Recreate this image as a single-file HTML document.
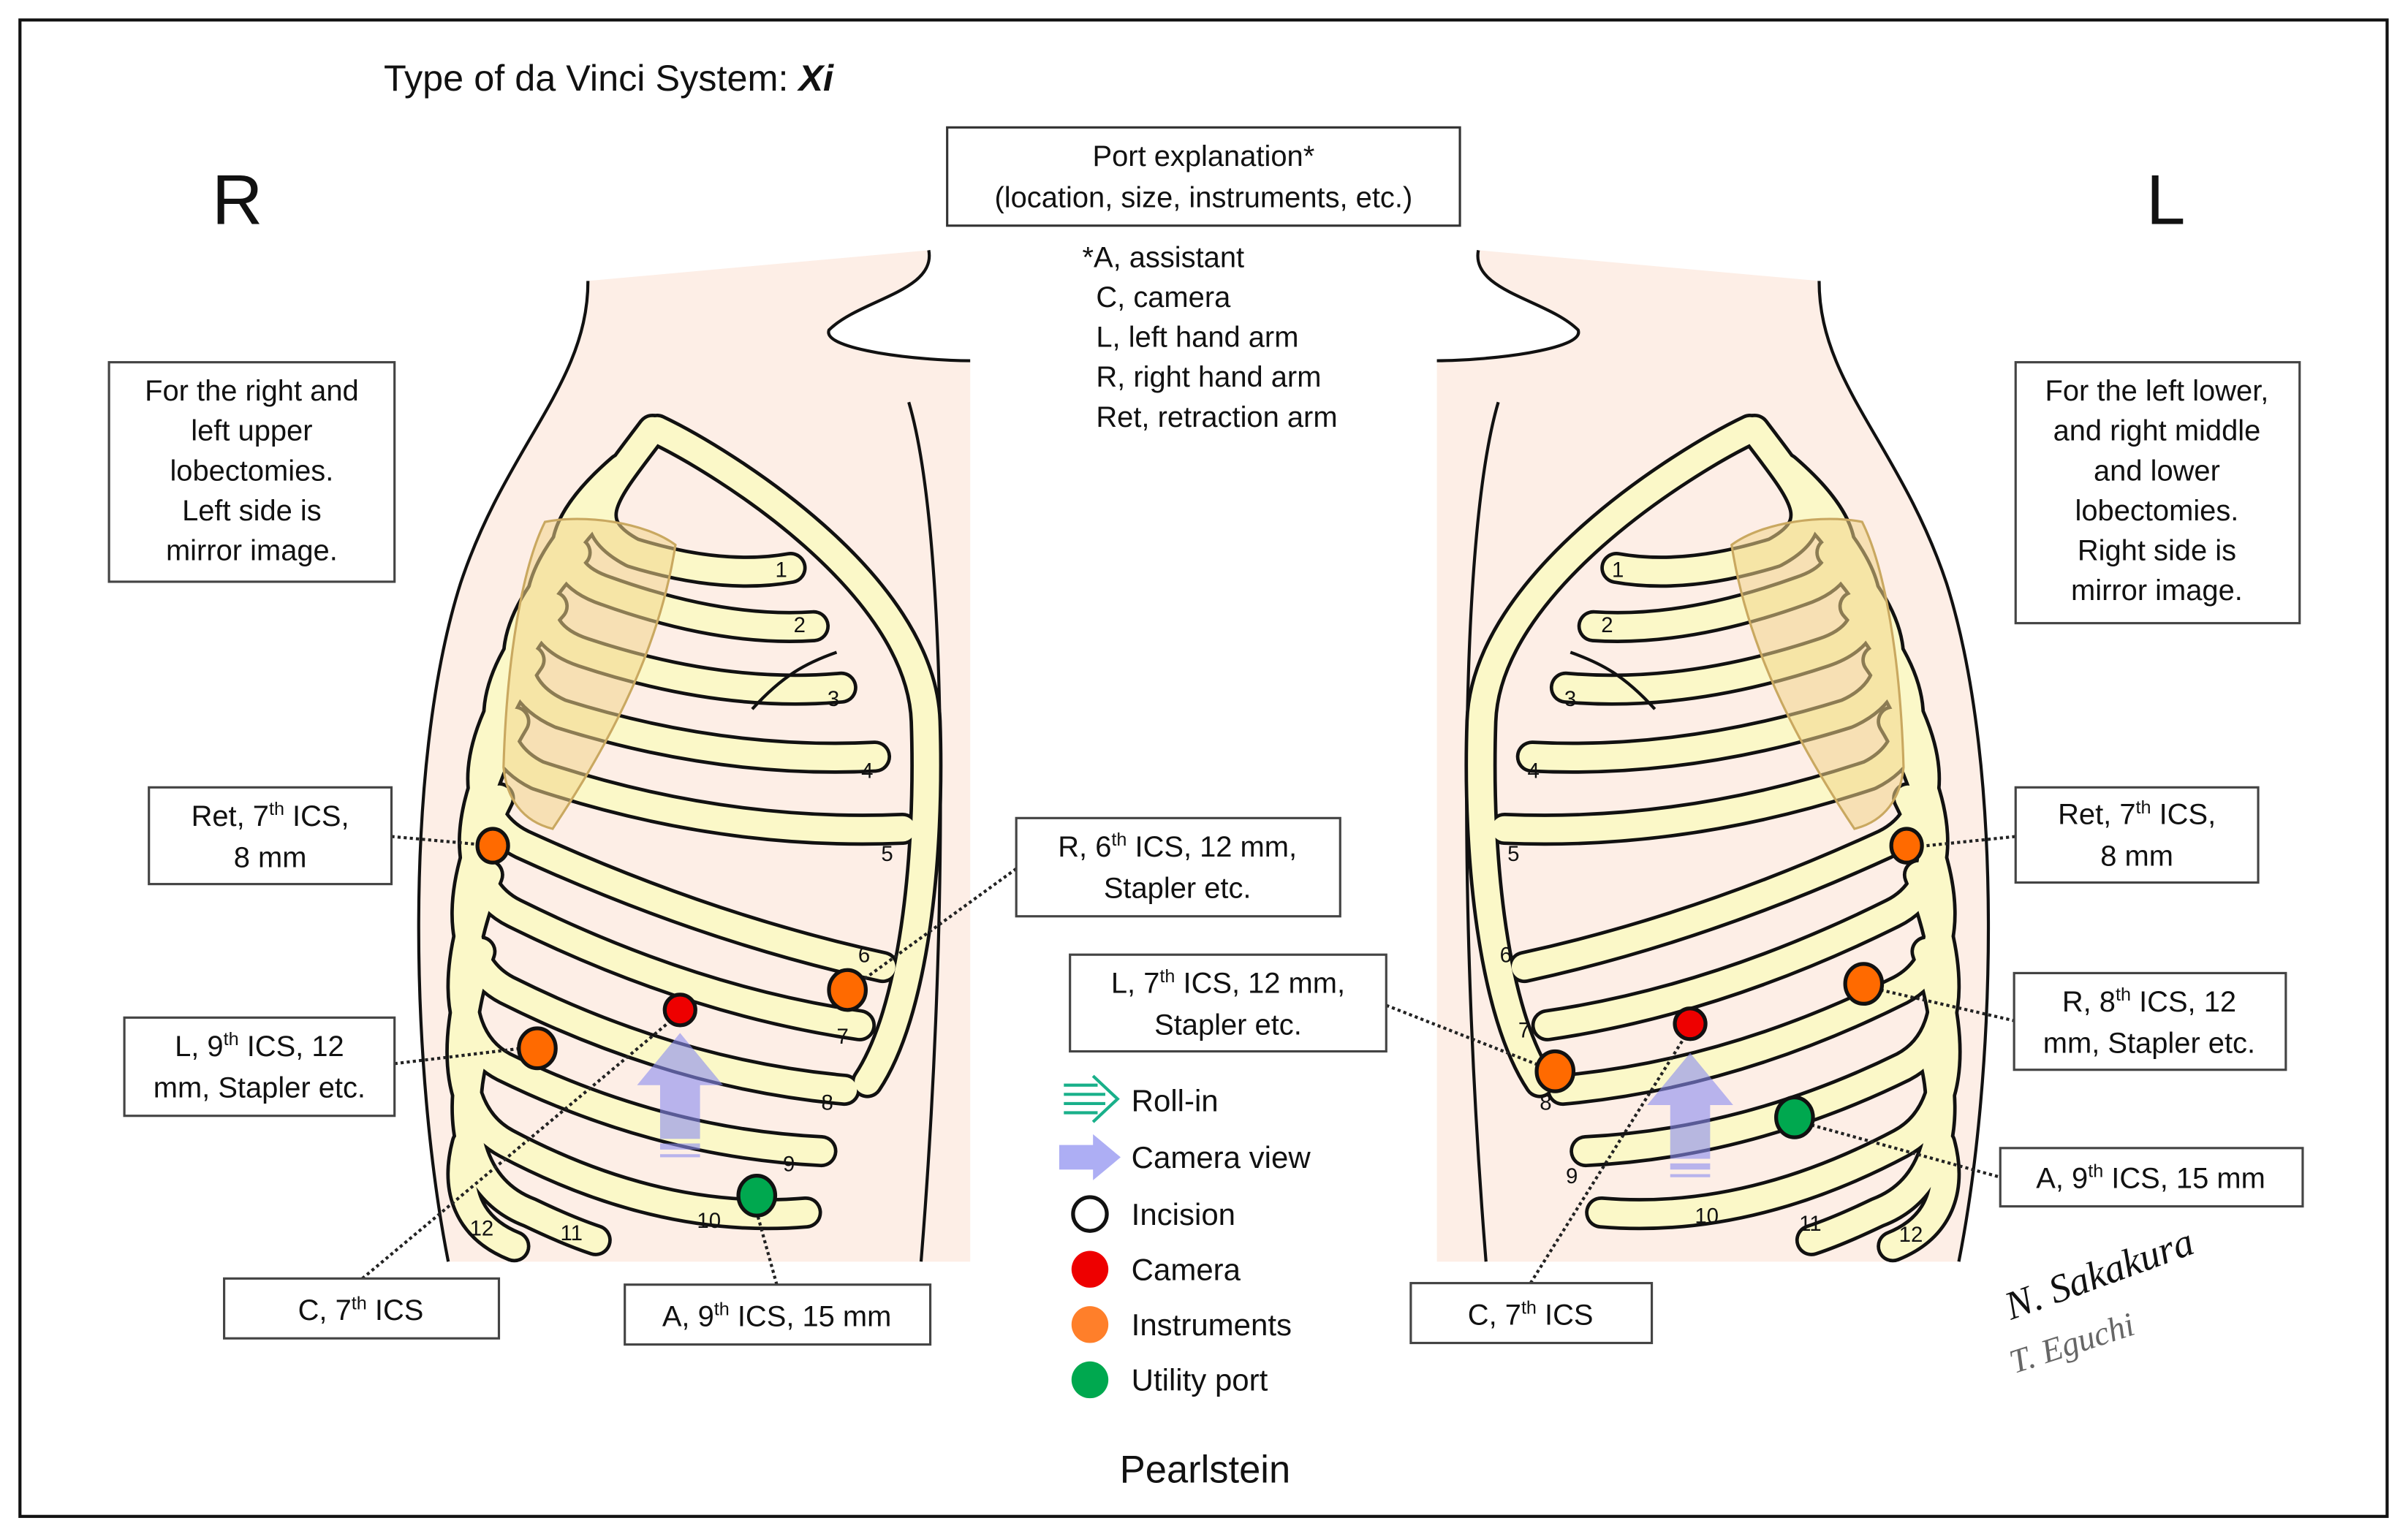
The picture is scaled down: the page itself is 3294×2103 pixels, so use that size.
<!DOCTYPE html>
<html><head><meta charset="utf-8"><style>
html,body{margin:0;padding:0;background:#fff;}
svg{display:block;}
text{font-family:"Liberation Sans",Arial,sans-serif;fill:#111;}
</style></head><body>
<svg width="3294" height="2103" viewBox="0 0 1568.6 1001.4" xmlns="http://www.w3.org/2000/svg">
<defs>
<g id="ribs">
  <path d="M425,280 C395,320 375,340 412,360 Q470,378 515,370"/>
  <path d="M405,305 C370,335 350,370 395,385 Q470,412 530,408"/>
  <path d="M390,330 C350,370 335,410 380,425 Q470,455 548,448"/>
  <path d="M375,360 C335,400 320,445 365,465 Q470,498 570,493"/>
  <path d="M360,395 C320,440 310,485 350,505 Q470,545 588,540"/>
  <path d="M345,430 C310,480 300,530 340,550 Q460,605 575,630"/>
  <path d="M335,470 C305,520 295,575 335,595 Q450,652 560,668"/>
  <path d="M325,520 C300,570 292,625 330,645 Q440,700 550,710"/>
  <path d="M318,570 C298,620 290,675 328,695 Q430,745 535,750"/>
  <path d="M313,620 C296,670 292,725 330,745 Q430,798 525,790"/>
  <path d="M308,690 C298,730 305,775 345,790 Q370,802 388,808"/>
  <path d="M304,745 C296,775 305,800 335,812"/>
  <path d="M428,280 C470,300 600,380 603,470 C606,560 595,660 565,705"/>
</g>
<g id="fig">
  <path d="M383,183 L605,163 C610,190 560,195 540,215 C535,228 600,235 632,235 L632,822 L292,822 C268,700 262,500 300,380 C330,290 383,250 383,183 Z" fill="#fdeee6"/>
  <path d="M383,183 C383,250 330,290 300,380 C262,500 268,700 292,822" fill="none" stroke="#111" stroke-width="2"/>
  <path d="M605,163 C610,190 560,195 540,215 C535,228 600,235 632,235" fill="none" stroke="#111" stroke-width="2"/>
  <path d="M592,262 C618,350 618,600 600,822" fill="none" stroke="#111" stroke-width="2"/>
  <g fill="none" stroke-linecap="round" stroke-linejoin="round">
    <use href="#ribs" stroke="#111" stroke-width="21"/>
    <use href="#ribs" stroke="#fbf8c8" stroke-width="16.5"/>
  </g>
  <path d="M490,462 C510,440 525,432 545,425" fill="none" stroke="#111" stroke-width="2"/>
  <path d="M355,340 C380,335 420,340 440,355 C430,420 400,480 360,540 C340,535 330,520 328,500 C330,430 340,370 355,340 Z" fill="#f2d58a" fill-opacity="0.55" stroke="#c9a860" stroke-width="1.5"/>
</g>
</defs>

<rect x="13" y="13" width="1542" height="975" fill="#fff" stroke="#111" stroke-width="2"/>

<use href="#fig"/>
<use href="#fig" transform="translate(1568,0) scale(-1,1)"/>

<text x="250" y="59" font-size="24">Type of da Vinci System: <tspan font-weight="bold" font-style="italic">Xi</tspan></text>
<text x="138" y="146" font-size="46">R</text>
<text x="1398" y="146" font-size="46">L</text>

<rect x="617" y="83" width="334" height="64" fill="#fff" stroke="#333" stroke-width="1.5"/>
<text x="784" y="108" font-size="19" text-anchor="middle">Port explanation*</text>
<text x="784" y="135" font-size="19" text-anchor="middle">(location, size, instruments, etc.)</text>
<g font-size="19">
<text x="705" y="174">*A, assistant</text>
<text x="714" y="200">C, camera</text>
<text x="714" y="226">L, left hand arm</text>
<text x="714" y="252">R, right hand arm</text>
<text x="714" y="278">Ret, retraction arm</text>
</g>

<g font-size="14">
<text x="505" y="376">1</text><text x="517" y="412">2</text><text x="539" y="460">3</text><text x="561" y="507">4</text><text x="574" y="561">5</text><text x="559" y="627">6</text><text x="545" y="680">7</text><text x="535" y="723">8</text><text x="510" y="763">9</text><text x="454" y="800">10</text><text x="365" y="808">11</text><text x="306" y="805">12</text>
<text x="1050" y="376">1</text><text x="1043" y="412">2</text><text x="1019" y="460">3</text><text x="995" y="507">4</text><text x="982" y="561">5</text><text x="977" y="627">6</text><text x="989" y="676">7</text><text x="1003" y="723">8</text><text x="1020" y="771">9</text><text x="1104" y="797">10</text><text x="1172" y="802">11</text><text x="1237" y="809">12</text>
</g>

<g fill="#8a8cf0" fill-opacity="0.6">
<path d="M415,707 L443,673 L471,707 L456,707 L456,742 L430,742 L430,707 Z"/>
<rect x="430" y="745" width="26" height="4"/><rect x="430" y="752" width="26" height="2"/>
<path d="M1073,720 L1101,686 L1129,720 L1114,720 L1114,755 L1088,755 L1088,720 Z"/>
<rect x="1088" y="758" width="26" height="4"/><rect x="1088" y="765" width="26" height="2"/>
</g>

<g stroke="#222" stroke-width="2" stroke-dasharray="2,2" fill="none">
<line x1="255" y1="545" x2="321" y2="551"/>
<line x1="257" y1="693" x2="340" y2="683"/>
<line x1="236" y1="833" x2="443" y2="660"/>
<line x1="506" y1="837" x2="493" y2="790"/>
<line x1="662" y1="566" x2="560" y2="640"/>
<line x1="903" y1="655" x2="1005" y2="695"/>
<line x1="997" y1="836" x2="1101" y2="670"/>
<line x1="1255" y1="551" x2="1313" y2="545"/>
<line x1="1225" y1="645" x2="1312" y2="665"/>
<line x1="1180" y1="733" x2="1303" y2="767"/>
</g>

<g stroke="#111" stroke-width="2.5">
<ellipse cx="321" cy="551" rx="10" ry="11" fill="#ff6a00"/>
<ellipse cx="443" cy="658" rx="10" ry="10" fill="#ee0000"/>
<ellipse cx="552" cy="645" rx="12" ry="13" fill="#ff6a00"/>
<ellipse cx="350" cy="683" rx="12" ry="13" fill="#ff6a00"/>
<ellipse cx="493" cy="779" rx="12" ry="13" fill="#00a84f"/>
<ellipse cx="1242" cy="551" rx="10" ry="11" fill="#ff6a00"/>
<ellipse cx="1101" cy="667" rx="10" ry="10" fill="#ee0000"/>
<ellipse cx="1013" cy="698" rx="12" ry="13" fill="#ff6a00"/>
<ellipse cx="1214" cy="641" rx="12" ry="13" fill="#ff6a00"/>
<ellipse cx="1169" cy="728" rx="12" ry="13" fill="#00a84f"/>
</g>

<g fill="#fff" stroke="#444" stroke-width="1.5">
<rect x="71" y="236" width="186" height="143"/>
<rect x="97" y="513" width="158" height="63"/>
<rect x="81" y="663" width="176" height="64"/>
<rect x="146" y="833" width="179" height="39"/>
<rect x="407" y="837" width="199" height="39"/>
<rect x="662" y="533" width="211" height="64"/>
<rect x="697" y="622" width="206" height="63"/>
<rect x="919" y="836" width="157" height="39"/>
<rect x="1313" y="236" width="185" height="170"/>
<rect x="1313" y="513" width="158" height="62"/>
<rect x="1312" y="634" width="177" height="63"/>
<rect x="1303" y="748" width="197" height="38"/>
</g>
<g font-size="19" text-anchor="middle">
<text x="164" y="261">For the right and</text><text x="164" y="287">left upper</text><text x="164" y="313">lobectomies.</text><text x="164" y="339">Left side is</text><text x="164" y="365">mirror image.</text>
<text x="176" y="538">Ret, 7<tspan font-size="12" dy="-7">th</tspan><tspan dy="7"> ICS,</tspan></text><text x="176" y="565">8 mm</text>
<text x="169" y="688">L, 9<tspan font-size="12" dy="-7">th</tspan><tspan dy="7"> ICS, 12</tspan></text><text x="169" y="715">mm, Stapler etc.</text>
<text x="235" y="860">C, 7<tspan font-size="12" dy="-7">th</tspan><tspan dy="7"> ICS</tspan></text>
<text x="506" y="864">A, 9<tspan font-size="12" dy="-7">th</tspan><tspan dy="7"> ICS, 15 mm</tspan></text>
<text x="767" y="558">R, 6<tspan font-size="12" dy="-7">th</tspan><tspan dy="7"> ICS, 12 mm,</tspan></text><text x="767" y="585">Stapler etc.</text>
<text x="800" y="647">L, 7<tspan font-size="12" dy="-7">th</tspan><tspan dy="7"> ICS, 12 mm,</tspan></text><text x="800" y="674">Stapler etc.</text>
<text x="997" y="863">C, 7<tspan font-size="12" dy="-7">th</tspan><tspan dy="7"> ICS</tspan></text>
<text x="1405" y="261">For the left lower,</text><text x="1405" y="287">and right middle</text><text x="1405" y="313">and lower</text><text x="1405" y="339">lobectomies.</text><text x="1405" y="365">Right side is</text><text x="1405" y="391">mirror image.</text>
<text x="1392" y="537">Ret, 7<tspan font-size="12" dy="-7">th</tspan><tspan dy="7"> ICS,</tspan></text><text x="1392" y="564">8 mm</text>
<text x="1400" y="659">R, 8<tspan font-size="12" dy="-7">th</tspan><tspan dy="7"> ICS, 12</tspan></text><text x="1400" y="686">mm, Stapler etc.</text>
<text x="1401" y="774">A, 9<tspan font-size="12" dy="-7">th</tspan><tspan dy="7"> ICS, 15 mm</tspan></text>
</g>

<g>
<g stroke="#19b08a" stroke-width="2"><line x1="693" y1="707" x2="715" y2="707"/><line x1="693" y1="713" x2="720" y2="713"/><line x1="693" y1="719" x2="720" y2="719"/><line x1="693" y1="725" x2="715" y2="725"/><path d="M712,701 L728,716 L712,731" fill="none"/></g>
<path d="M690,746 L712,746 L712,739 L730,754 L712,769 L712,762 L690,762 Z" fill="#8a8cf0" fill-opacity="0.7"/>
<circle cx="710" cy="791" r="11" fill="#fff" stroke="#111" stroke-width="2.5"/>
<circle cx="710" cy="827" r="12" fill="#ee0000"/>
<circle cx="710" cy="863" r="12" fill="#ff7f2a"/>
<circle cx="710" cy="899" r="12" fill="#00a84f"/>
<g font-size="20"><text x="737" y="724">Roll-in</text><text x="737" y="761">Camera view</text><text x="737" y="798">Incision</text><text x="737" y="834">Camera</text><text x="737" y="870">Instruments</text><text x="737" y="906">Utility port</text></g>
</g>
<text x="785" y="966" font-size="25" text-anchor="middle">Pearlstein</text>

<text x="1310" y="860" font-size="26" font-style="italic" transform="rotate(-20 1310 860)" style="font-family:'Liberation Serif',serif">N. Sakakura</text>
<text x="1312" y="895" font-size="22" font-style="italic" transform="rotate(-18 1312 895)" style="font-family:'Liberation Serif',serif;fill:#666">T. Eguchi</text>
</svg>
</body></html>
